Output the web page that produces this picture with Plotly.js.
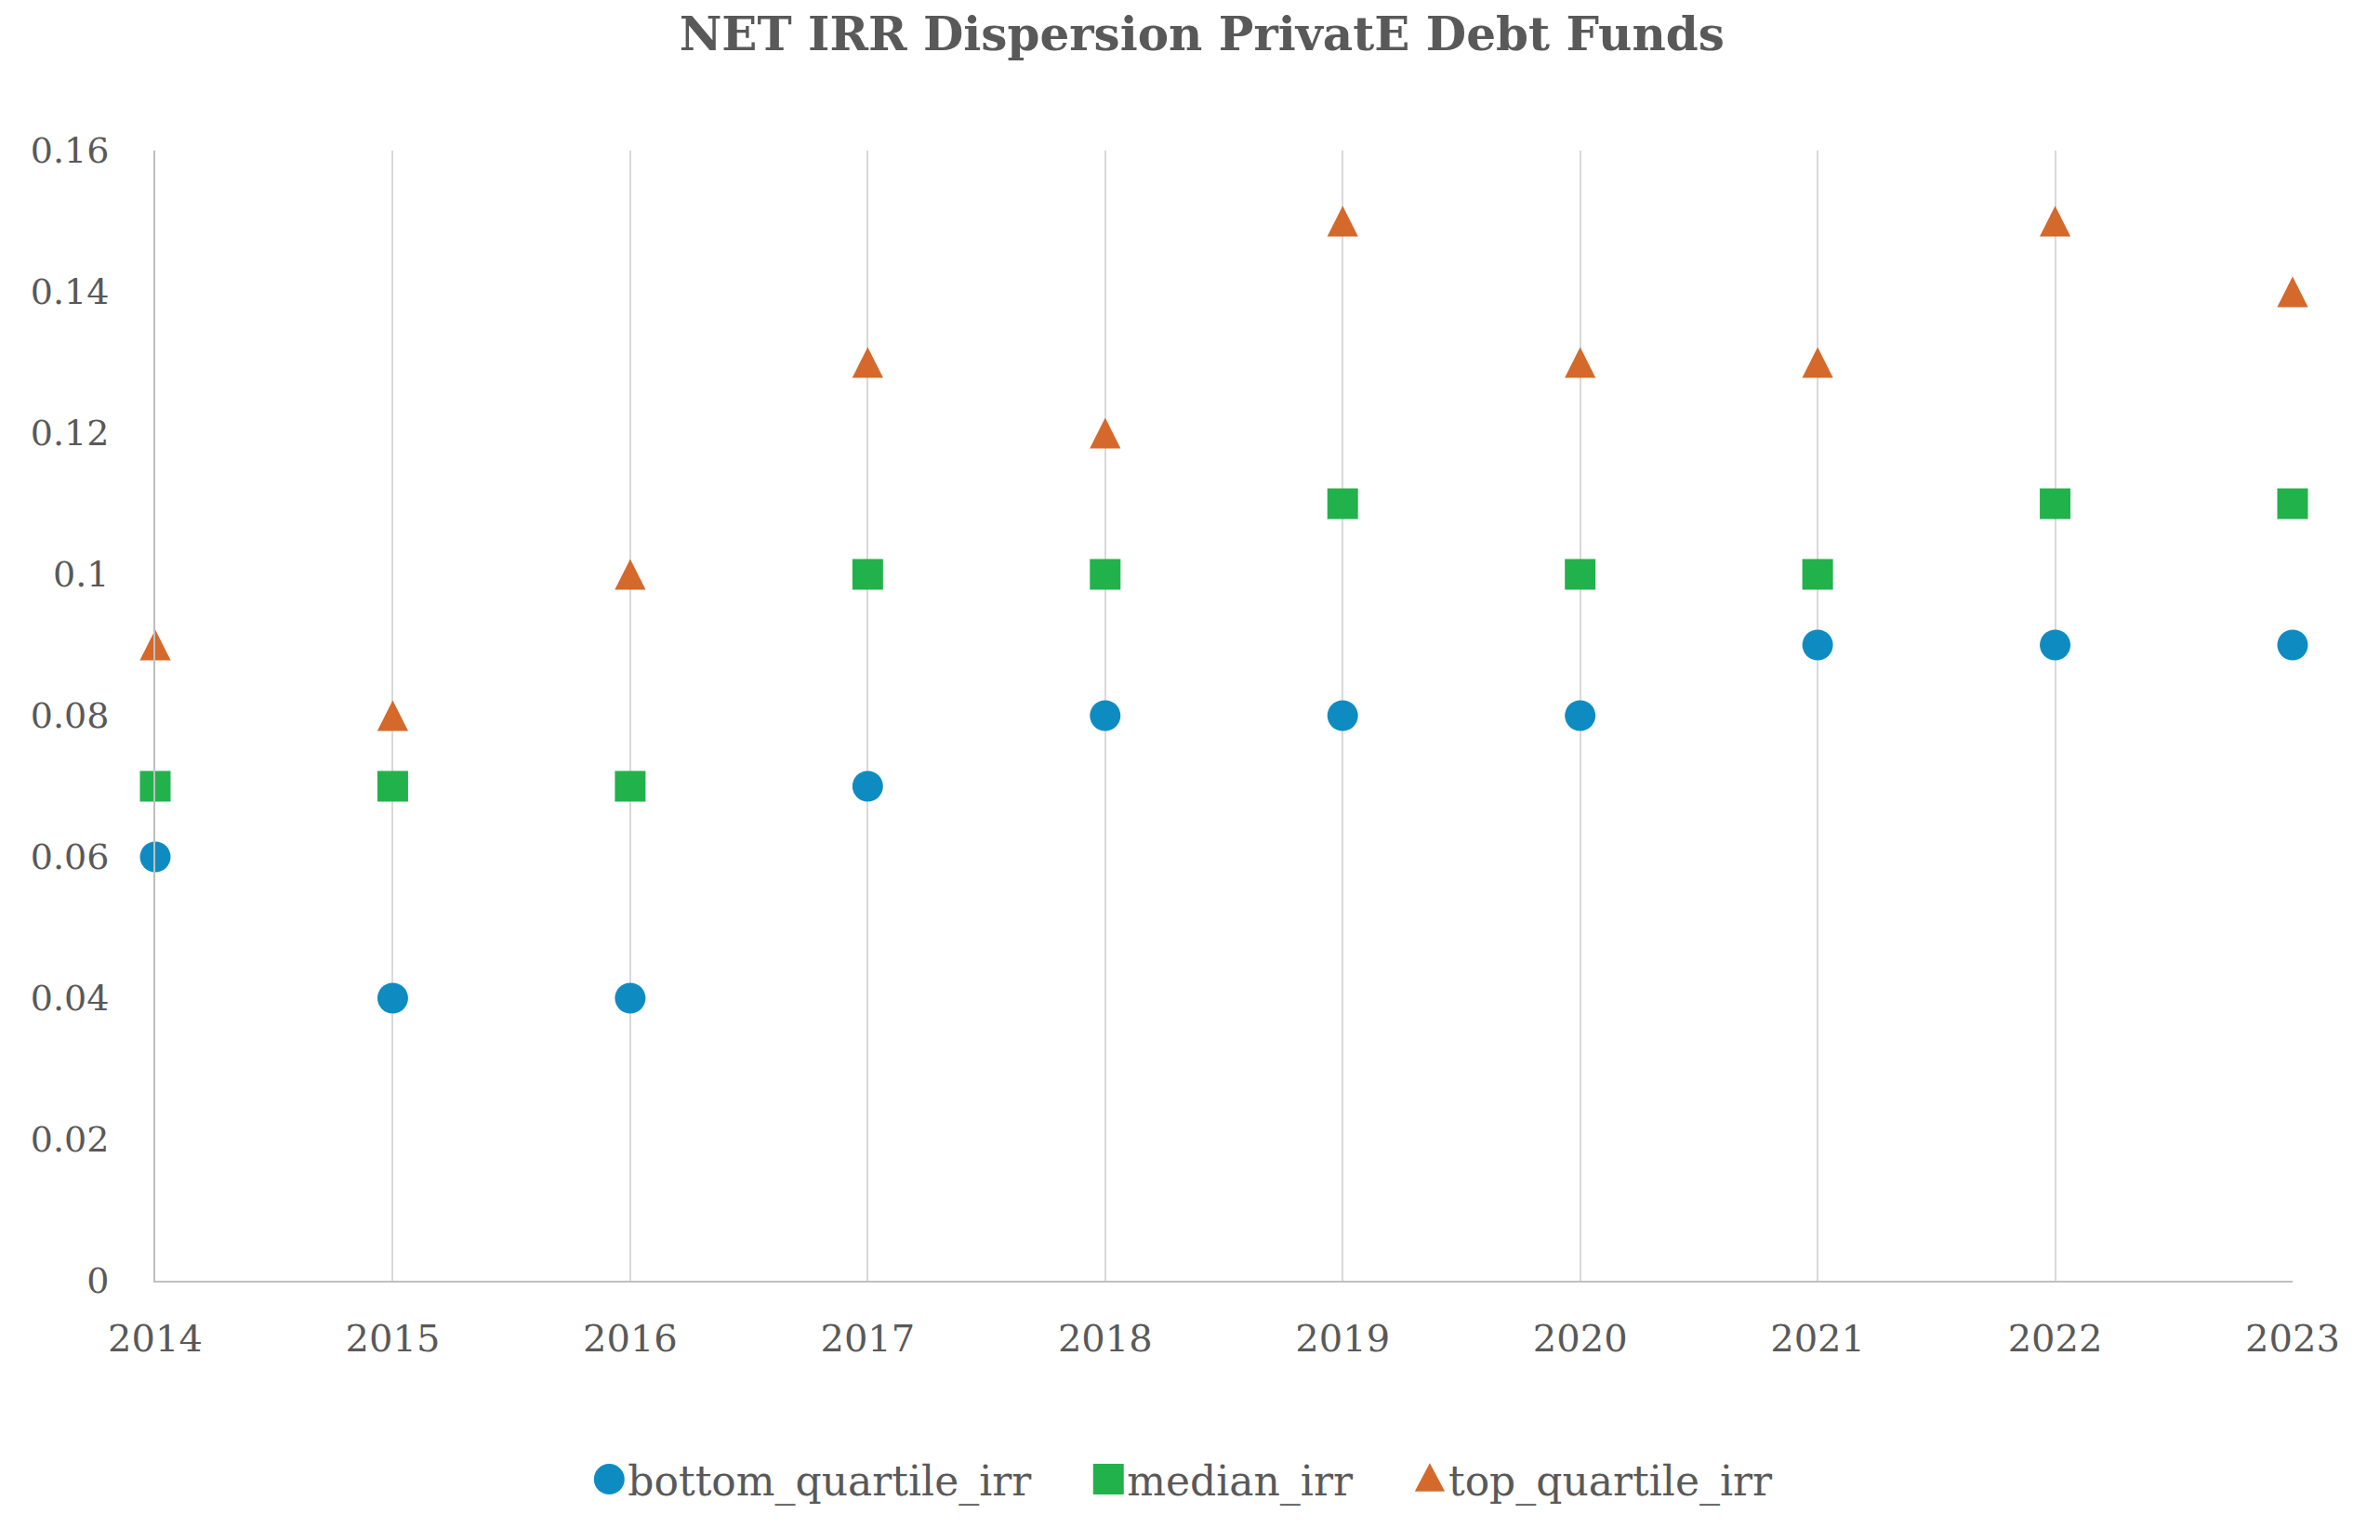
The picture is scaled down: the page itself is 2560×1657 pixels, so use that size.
<!DOCTYPE html>
<html>
<head>
<meta charset="utf-8">
<script src="https://cdn.plot.ly/plotly-3.0.1.min.js"></script>
<style>html,body{margin:0;padding:0;background:#fff;}#chart{width:2560px;height:1657px;}</style>
</head>
<body>
<div id="chart"></div>
<script>
const years = [2014, 2015, 2016, 2017, 2018, 2019, 2020, 2021, 2022, 2023];
const bottomQuartile = [0.06, 0.04, 0.04, 0.07, 0.08, 0.08, 0.08, 0.09, 0.09, 0.09];
const medianIrr = [0.07, 0.07, 0.07, 0.10, 0.10, 0.11, 0.10, 0.10, 0.11, 0.11];
const topQuartile = [0.09, 0.08, 0.10, 0.13, 0.12, 0.15, 0.13, 0.13, 0.15, 0.14];
const yTickVals = [0, 0.02, 0.04, 0.06, 0.08, 0.10, 0.12, 0.14, 0.16];
const yTickText = ['0', '0.02', '0.04', '0.06', '0.08', '0.1', '0.12', '0.14', '0.16'];
const seriesNames = ['bottom_quartile_irr', 'median_irr', 'top_quartile_irr'];

const FONT = 'DejaVu Serif, Liberation Serif, serif';
const TXT = '#595959';

const traces = [
  {x: years, y: bottomQuartile, name: seriesNames[0], type: 'scatter', mode: 'markers', cliponaxis: false,
   marker: {symbol: 'circle', size: 33, color: '#0e8cc2'}},
  {x: years, y: medianIrr, name: seriesNames[1], type: 'scatter', mode: 'markers', cliponaxis: false,
   marker: {symbol: 'square', size: 33, color: '#22b24c'}},
  {x: years, y: topQuartile, name: seriesNames[2], type: 'scatter', mode: 'markers', cliponaxis: false,
   marker: {symbol: 'triangle-up', size: 36, color: '#d4692b'}}
];

const layout = {
  width: 2560, height: 1657,
  paper_bgcolor: '#ffffff', plot_bgcolor: '#ffffff',
  margin: {l: 167, r: 94, t: 162, b: 279},
  font: {family: FONT, color: TXT, size: 38},
  title: {text: '<b>NET IRR Dispersion PrivatE Debt Funds</b>', font: {family: FONT, size: 50, color: TXT},
          x: 0.505, xanchor: 'center', xref: 'container', y: 1 - 36/1657, yanchor: 'middle', yref: 'container'},
  xaxis: {
    range: [2014, 2023], tickmode: 'array', tickvals: years, ticktext: years.map(String),
    showgrid: true, gridcolor: '#d9d9d9', gridwidth: 2,
    showline: true, linecolor: '#bfbfbf', linewidth: 2,
    zeroline: false, ticks: '', ticklabelstandoff: 26,
    tickfont: {family: FONT, size: 40, color: TXT}
  },
  yaxis: {
    range: [0, 0.16], tickmode: 'array', tickvals: yTickVals, ticktext: yTickText,
    showgrid: false, showline: true, linecolor: '#bfbfbf', linewidth: 2,
    zeroline: false, ticks: '', ticklabelstandoff: 40,
    tickfont: {family: FONT, size: 38, color: TXT}
  },
  showlegend: true,
  legend: {orientation: 'h', x: 0.505, xanchor: 'center', xref: 'container',
           y: 1 - 1592/1657, yanchor: 'middle', yref: 'container',
           font: {family: FONT, size: 44, color: TXT}, itemwidth: 30, tracegroupgap: 0}
};

function shiftTransform(el, dx) {
  const t = el.getAttribute('transform') || '';
  const m = t.match(/translate\(\s*([-\d.eE]+)[ ,]+([-\d.eE]+)\s*\)/);
  if (m) {
    el.setAttribute('transform', t.replace(m[0], 'translate(' + (parseFloat(m[1]) + dx) + ',' + m[2] + ')'));
  } else {
    el.setAttribute('transform', 'translate(' + dx + ',0) ' + t);
  }
}

Plotly.newPlot('chart', traces, layout, {displayModeBar: false, staticPlot: true}).then(function () {
  // taller triangles, like the reference (33 x 33 px, centred on the value)
  const plotTraces = document.querySelectorAll('#chart .scatterlayer .trace');
  if (plotTraces[2]) {
    plotTraces[2].querySelectorAll('path.point').forEach(function (p) {
      const t = p.getAttribute('transform') || '';
      p.setAttribute('transform', t + ' translate(0,5.5) scale(0.8,1.22)');
    });
  }
  const legend = document.querySelector('#chart .legend');
  if (legend) {
    legend.querySelectorAll('[clip-path]').forEach(function (e) { e.removeAttribute('clip-path'); });
    const items = legend.querySelectorAll('g.traces');
    items.forEach(function (it, i) {
      it.querySelectorAll('.legendpoints path.scatterpts').forEach(function (p) {
        const t = p.getAttribute('transform') || '';
        p.setAttribute('transform', t + (i === 2 ? ' translate(0,3) scale(1.75,2.55)' : ' scale(2.06)'));
      });
      shiftTransform(it, i * 57);
    });
    shiftTransform(legend, -76);
  }
});
</script>
</body>
</html>
